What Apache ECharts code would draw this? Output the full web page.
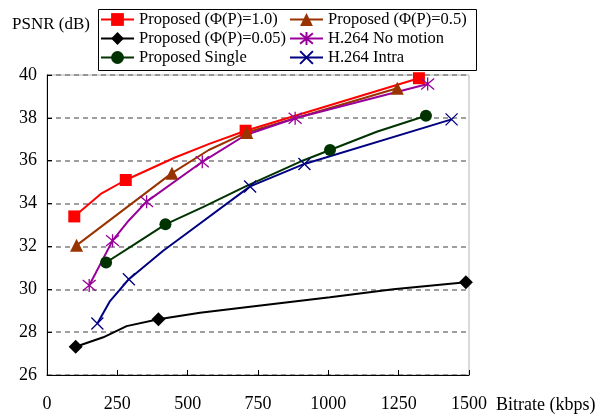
<!DOCTYPE html>
<html>
<head>
<meta charset="utf-8">
<script src="https://cdn.jsdelivr.net/npm/echarts@6/dist/echarts.min.js"></script>
<style>html,body{margin:0;padding:0;background:#fff}#c{width:601px;height:420px}</style>
</head>
<body>
<div id="c"></div>
<script>
const seriesNames = ['Proposed (\u03A6(P)=1.0)','Proposed (\u03A6(P)=0.5)','Proposed (\u03A6(P)=0.05)','H.264 No motion','Proposed Single','H.264 Intra'];
const xTickValues = [0,250,500,750,1000,1250,1500];
const yTickValues = [26,28,30,32,34,36,38,40];
const xTitle = 'Bitrate (kbps)';
const yTitle = 'PSNR (dB)';

const dataP10 = [[97,33.4],[191,34.45],[280,35.1],[455,36.15],[579,36.8],[706,37.4],[1322,39.85]];
const marksP10 = [0,2,5,6];
const dataP05 = [[105,32.05],[444,35.42],[575,36.5],[710,37.32],[1245,39.38]];
const marksP05 = [0,1,3,4];
const dataP005 = [[102,27.32],[200,27.76],[283,28.28],[396,28.6],[544,28.91],[722,29.19],[1006,29.63],[1231,30.0],[1489,30.33]];
const marksP005 = [0,3,8];
const dataNoMotion = [[150,30.18],[233,32.27],[290,33.2],[354,34.09],[552,35.95],[706,37.2],[882,37.98],[1353,39.58]];
const marksNoMotion = [0,1,3,4,6,7];
const dataSingle = [[210,31.25],[319,32.17],[421,33.03],[556,33.85],[706,34.8],[899,35.95],[1006,36.5],[1172,37.35],[1347,38.1]];
const marksSingle = [0,2,6,8];
const dataIntra = [[179,28.4],[224,29.45],[291,30.47],[413,31.8],[508,32.72],[722,34.8],[915,35.85],[1438,37.93]];
const marksIntra = [0,2,5,6,7];

const FONT = '"Liberation Serif","Times New Roman",serif';
const STAR = 'path://M0,0L10,10M10,0L0,10M5,-1L5,11';
const CROSS = 'path://M0,0L10,10M10,0L0,10';

function items(data, marks){
  return data.map((d,i)=> marks.indexOf(i)>=0 ? {value:d} : {value:d, symbol:'none'});
}
function mk(name, data, marks, color, symbol, size, stroke){
  return {
    name, type:'line', data: items(data, marks), symbol, symbolSize:size,
    showAllSymbol:true, smooth:false, z: 3,
    lineStyle:{color, width:2},
    itemStyle: stroke ? {color:'rgba(0,0,0,0)', borderColor:color, borderWidth:1.3} : {color, borderWidth:0},
    emphasis:{disabled:true}, animation:false
  };
}

const chart = echarts.init(document.getElementById('c'));
chart.setOption({
  animation:false,
  backgroundColor:'#fff',
  grid:{left:47, right:132, top:75, bottom:45, show:true, borderColor:'#b4b4b4', borderWidth:1, backgroundColor:'transparent'},
  xAxis:{type:'value', min:xTickValues[0], max:xTickValues[xTickValues.length-1], interval:250,
    axisLine:{show:true, lineStyle:{color:'#000', width:1}},
    axisTick:{show:true, inside:true, length:5, lineStyle:{color:'#000'}},
    axisLabel:{color:'#000', fontFamily:FONT, fontSize:18, margin:20, formatter:v=>String(v)},
    splitLine:{show:false}},
  yAxis:{type:'value', min:yTickValues[0], max:yTickValues[yTickValues.length-1], interval:2,
    axisLine:{show:true, lineStyle:{color:'#000', width:1}},
    axisTick:{show:true, inside:true, length:5, lineStyle:{color:'#000'}},
    axisLabel:{color:'#000', fontFamily:FONT, fontSize:18, margin:10, formatter:v=>String(v)},
    splitLine:{show:true, lineStyle:{color:'#808080', width:1.5, type:[5,4]}}},
  legend:{
    left:100, top:10, width:390, itemGap:0, itemWidth:33, itemHeight:16,
    padding:0,
    data: seriesNames,
    textStyle:{fontFamily:FONT, fontSize:16.5, color:'#000', width:150, lineHeight:19, padding:[0,0,0,0]},
    selectedMode:false
  },
  graphic:[
    {type:'rect', left:96, top:7, shape:{width:378, height:61}, style:{fill:'none', stroke:'#000', lineWidth:1}, z:-1},
    {type:'text', left:12, top:16, style:{text:yTitle, font:'17px '+FONT, fill:'#000'}},
    {type:'text', left:496, top:396, style:{text:xTitle, font:'18px '+FONT, fill:'#000'}}
  ],
  series:[
    mk(seriesNames[0], dataP10, marksP10, '#ff0000', 'rect', 12),
    mk(seriesNames[1], dataP05, marksP05, '#993300', 'triangle', 13),
    mk(seriesNames[2], dataP005, marksP005, '#000000', 'diamond', 14),
    mk(seriesNames[3], dataNoMotion, marksNoMotion, '#990099', STAR, 13, true),
    mk(seriesNames[4], dataSingle, marksSingle, '#003300', 'circle', 12),
    mk(seriesNames[5], dataIntra, marksIntra, '#000080', CROSS, 12, true)
  ]
});
</script>
</body>
</html>
